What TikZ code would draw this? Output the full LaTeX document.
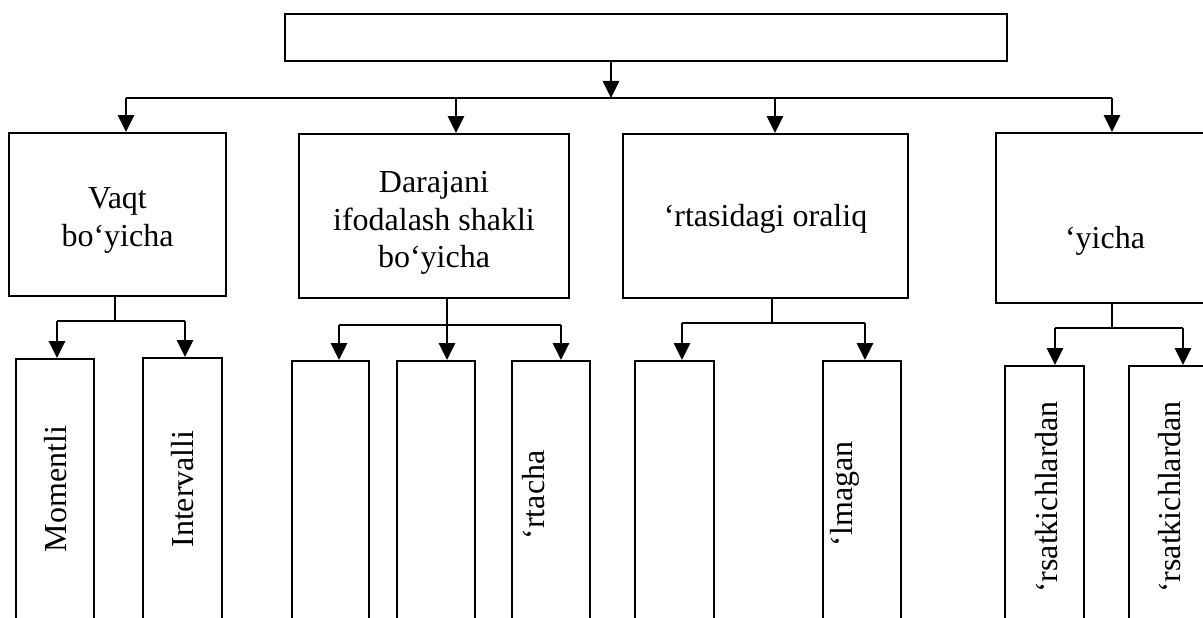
\documentclass[tikz,border=0pt]{standalone}
\usepackage{fontspec}
\setmainfont{Liberation Serif}
\usetikzlibrary{arrows.meta, positioning}

\begin{document}
\begin{tikzpicture}[x=1pt, y=-1pt, >={Triangle[length=17pt,width=16pt]},
    hbox/.style={draw, line width=2pt, inner sep=0pt, anchor=north},
    vbox/.style={draw, line width=2pt, inner sep=0pt, anchor=north, minimum width=78pt, minimum height=275pt},
    lbl/.style={inner sep=0pt, align=center, font=\fontsize{32}{37.5}\selectfont},
    vtext/.style={lbl, rotate=90},
    wire/.style={line width=2pt},
    arr/.style={->, line width=2.8pt}]

    \useasboundingbox (0,0) rectangle (1203,618);
    \clip (0,0) rectangle (1203,618);

    % top
    \node[hbox, minimum width=722pt, minimum height=47pt] (top) at (646,13) {};

    \node[hbox, minimum width=217pt, minimum height=163pt,
          label={[lbl, yshift=-6pt]center:Vaqt\\bo‘yicha}] (vaqt) at (117.5,132) {};
    \node[hbox, minimum width=270pt, minimum height=164pt,
          label={[lbl, yshift=-7pt]center:Darajani\\ifodalash shakli\\bo‘yicha}] (daraja) at (434,133) {};
    \node[hbox, minimum width=285pt, minimum height=164pt,
          label={[lbl, yshift=-3pt]center:‘rtasidagi oraliq}] (oraliq) at (765.5,133) {};
    \node[hbox, minimum width=232pt, minimum height=170pt,
          label={[lbl, xshift=-7pt, yshift=-23pt]center:‘yicha}] (yicha) at (1112,132) {};

    % bottom row
    \node[vbox] (moment) at (55,358) {};
    \node[vbox, minimum width=79pt] (interval) at (182.5,357) {};
    \node[vbox, minimum width=77pt] (d1) at (330.5,360) {};
    \node[vbox] (d2) at (436,360) {};
    \node[vbox] (d3) at (551,360) {};
    \node[vbox, minimum width=79pt] (o1) at (674.5,360) {};
    \node[vbox] (o2) at (862,360) {};
    \node[vbox, minimum width=79pt] (y1) at (1044.5,365) {};
    \node[vbox, minimum width=79pt] (y2) at (1168.5,365) {};

    \node[vtext] (tmoment) at (56,489) {Momentli};
    \node[vtext] (tinterval) at (183,489) {Intervalli};
    \node[vtext] (td3) at (534,495) {‘rtacha};
    \node[vtext] (to2) at (845,494) {‘lmagan};
    \node[vtext] (ty1) at (1047,497) {‘rsatkichlardan};
    \node[vtext] (ty2) at (1170,497) {‘rsatkichlardan};

    % first level
    \coordinate (j0) at (611,98);
    \coordinate (a1) at (126,98);
    \coordinate (a2) at (456,98);
    \coordinate (a3) at (775,98);
    \coordinate (a4) at (1112,98);
    \draw[arr] (top.south -| j0) -- (j0);
    \draw[wire] (a1) -- (a4);
    \draw[arr] (a1) -- (a1 |- vaqt.north);
    \draw[arr] (a2) -- (a2 |- daraja.north);
    \draw[arr] (a3) -- (a3 |- oraliq.north);
    \draw[arr] (a4) -- (a4 |- yicha.north);

    % second level
    \coordinate (fv) at (115,321);
    \draw[wire] (vaqt.south -| fv) -- (fv);
    \draw[wire] ([xshift=2pt]moment.north |- fv) -- ([xshift=2.5pt]interval.north |- fv);
    \draw[arr] ([xshift=2pt]moment.north |- fv) -- ([xshift=2pt]moment.north);
    \draw[arr] ([xshift=2.5pt]interval.north |- fv) -- ([xshift=2.5pt]interval.north);

    \coordinate (fd) at (447,325);
    \draw[wire] (daraja.south -| fd) -- (fd);
    \draw[wire] ([xshift=8.5pt]d1.north |- fd) -- ([xshift=10pt]d3.north |- fd);
    \draw[arr] ([xshift=8.5pt]d1.north |- fd) -- ([xshift=8.5pt]d1.north);
    \draw[arr] ([xshift=11pt]d2.north |- fd) -- ([xshift=11pt]d2.north);
    \draw[arr] ([xshift=10pt]d3.north |- fd) -- ([xshift=10pt]d3.north);

    \coordinate (fo) at (772,323);
    \draw[wire] (oraliq.south -| fo) -- (fo);
    \draw[wire] ([xshift=7.5pt]o1.north |- fo) -- ([xshift=3pt]o2.north |- fo);
    \draw[arr] ([xshift=7.5pt]o1.north |- fo) -- ([xshift=7.5pt]o1.north);
    \draw[arr] ([xshift=3pt]o2.north |- fo) -- ([xshift=3pt]o2.north);

    \coordinate (fy) at (1112,328);
    \draw[wire] (yicha.south -| fy) -- (fy);
    \draw[wire] ([xshift=10.5pt]y1.north |- fy) -- ([xshift=14.5pt]y2.north |- fy);
    \draw[arr] ([xshift=10.5pt]y1.north |- fy) -- ([xshift=10.5pt]y1.north);
    \draw[arr] ([xshift=14.5pt]y2.north |- fy) -- ([xshift=14.5pt]y2.north);
\end{tikzpicture}
\end{document}
